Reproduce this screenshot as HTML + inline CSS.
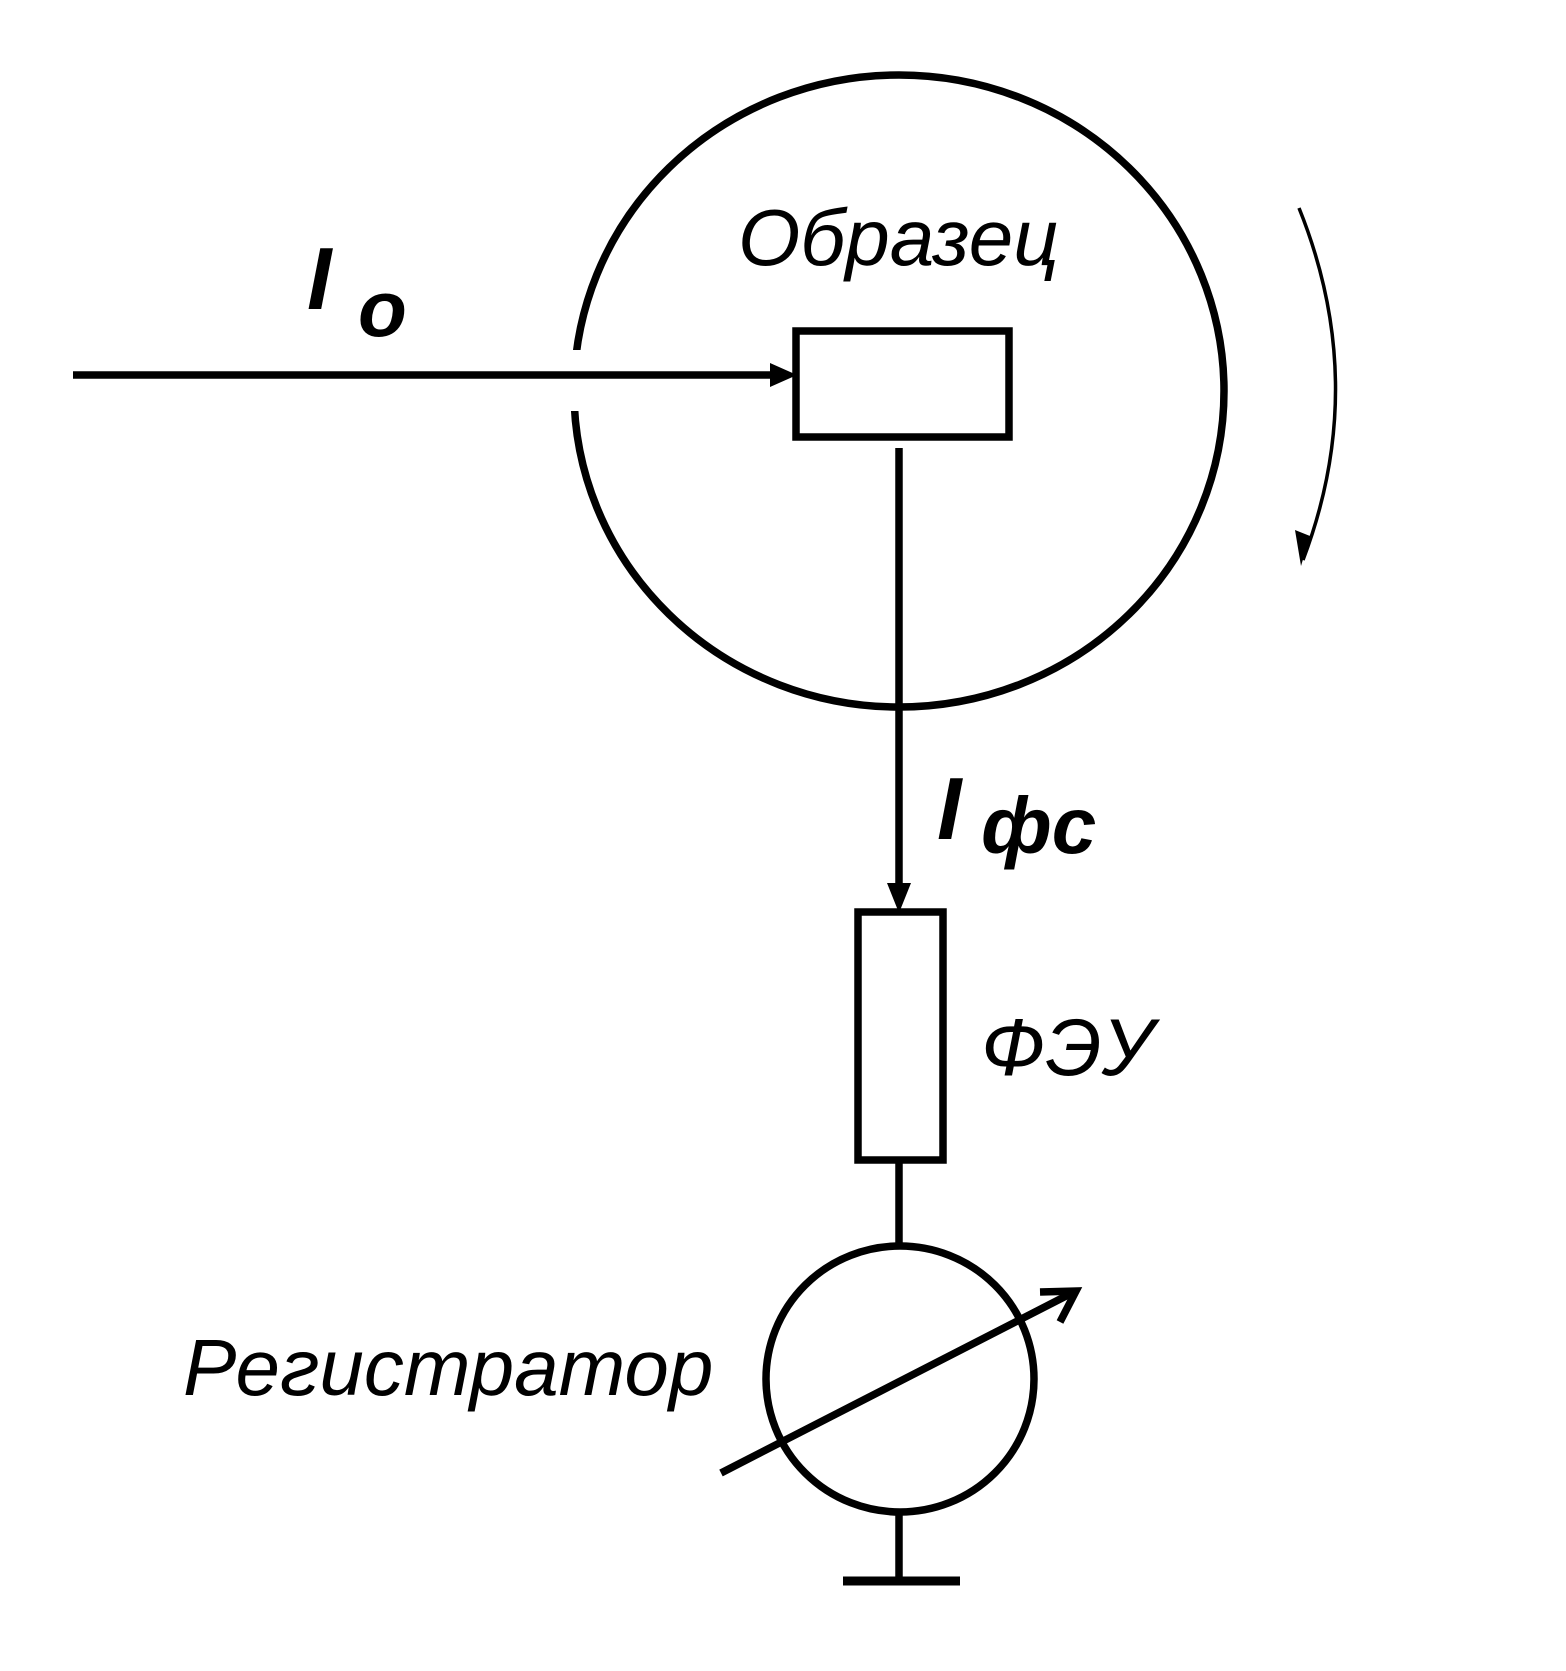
<!DOCTYPE html>
<html><head><meta charset="utf-8"><style>
html,body{margin:0;padding:0;background:#fff;}
svg{display:block}
text{font-family:"Liberation Sans","DejaVu Sans",sans-serif;font-style:italic;fill:#000}
</style></head><body>
<svg width="1566" height="1671" viewBox="0 0 1566 1671" xmlns="http://www.w3.org/2000/svg">
<g fill="none" stroke="#000" stroke-width="7.5">
<ellipse cx="899" cy="391" rx="325" ry="316"/>
</g>
<rect x="560" y="350" width="30" height="61" fill="#fff"/>
<g fill="none" stroke="#000" stroke-width="7.5">
<line x1="73" y1="375" x2="775" y2="375"/>
<rect x="796" y="331" width="213" height="106"/>
<line x1="899" y1="448" x2="899" y2="885"/>
<rect x="858" y="912" width="85" height="248"/>
<line x1="899" y1="1160" x2="899" y2="1246"/>
<ellipse cx="900" cy="1379" rx="134" ry="133"/>
<line x1="899" y1="1512" x2="899" y2="1581"/>
<line x1="843" y1="1581" x2="960" y2="1581" stroke-width="9"/>
<line x1="721" y1="1473" x2="1070" y2="1294"/>
<polyline points="1040,1292 1076,1291 1060,1322"/>
<path d="M1299,208 Q1370,384 1303,560" stroke-width="3.5"/>
</g>
<polygon points="797,375 770,363 770,387" fill="#000"/>
<polygon points="899,913 887,883 911,883" fill="#000"/>
<polygon points="1301,566 1295,530 1310,536" fill="#000"/>
<text x="738" y="265" font-size="80">Образец</text>
<text x="307" y="309" font-size="88" font-weight="bold">I</text>
<text x="358" y="336" font-size="80" font-weight="bold">o</text>
<text x="937" y="839" font-size="88" font-weight="bold">I</text>
<text x="981" y="853" font-size="80" font-weight="bold">фс</text>
<text x="981" y="1075" font-size="81">ФЭУ</text>
<text x="183" y="1395" font-size="80">Регистратор</text>
</svg>
</body></html>
